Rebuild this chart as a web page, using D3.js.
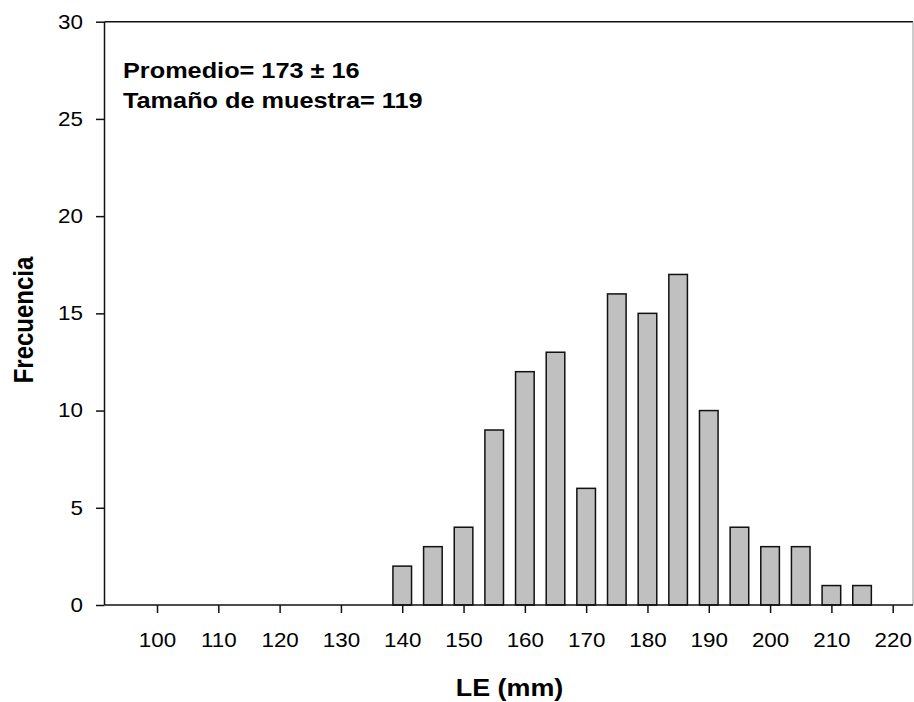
<!DOCTYPE html>
<html>
<head>
<meta charset="utf-8">
<script src="https://cdn.jsdelivr.net/npm/d3@7"></script>
<style>
  html, body { margin: 0; padding: 0; background: #fff; }
  svg { display: block; }
  text { font-family: Arial, "Liberation Sans", Helvetica, sans-serif; fill: #000; }
</style>
</head>
<body>
<svg id="chart" width="914" height="702"></svg>
<script>
// ---- data ----
const binCenters = [140, 145, 150, 155, 160, 165, 170, 175, 180, 185, 190, 195, 200, 205, 210, 215];
const frequencies = [2, 3, 4, 9, 12, 13, 6, 16, 15, 17, 10, 4, 3, 3, 1, 1];
const xTickValues = [100, 110, 120, 130, 140, 150, 160, 170, 180, 190, 200, 210, 220];
const yTickValues = [0, 5, 10, 15, 20, 25, 30];
const annotationLines = ["Promedio= 173 \u00b1 16", "Tama\u00f1o de muestra= 119"];
const xLabel = "LE (mm)";
const yLabel = "Frecuencia";

// ---- layout ----
const svg = d3.select("#chart");
const plotLeft = 104.5, plotRight = 913, plotTop = 21.7, plotBottom = 605;
const SX = 1.12; // horizontal stretch of the original rendering

const x = d3.scaleLinear().domain([100, 220]).range([157, 892.7]);
const y = d3.scaleLinear().domain([0, 30]).range([plotBottom, plotTop]);
const barW = 18.6;

// bars
svg.append("g").selectAll("rect")
  .data(binCenters.map((c, i) => ({ c, v: frequencies[i] })))
  .join("rect")
  .attr("x", d => x(d.c) - barW / 2)
  .attr("y", d => y(d.v))
  .attr("width", barW)
  .attr("height", d => y(0) - y(d.v))
  .attr("fill", "#c0c0c0")
  .attr("stroke", "#111")
  .attr("stroke-width", 1.5);

// frame lines
svg.append("line").attr("x1", plotLeft).attr("x2", plotRight).attr("y1", plotTop).attr("y2", plotTop)
  .attr("stroke", "#111").attr("stroke-width", 1.5);
svg.append("line").attr("x1", plotRight).attr("x2", plotRight).attr("y1", plotTop).attr("y2", plotBottom)
  .attr("stroke", "#999").attr("stroke-width", 1);
svg.append("line").attr("x1", plotLeft).attr("x2", plotRight).attr("y1", plotBottom).attr("y2", plotBottom)
  .attr("stroke", "#111").attr("stroke-width", 1.5);
svg.append("line").attr("x1", plotLeft).attr("x2", plotLeft).attr("y1", plotTop).attr("y2", plotBottom)
  .attr("stroke", "#111").attr("stroke-width", 1.5);

// x axis
const gx = svg.append("g").attr("transform", `translate(0,${plotBottom})`)
  .call(d3.axisBottom(x).tickValues(xTickValues).tickFormat(d3.format("d")).tickSize(8).tickSizeOuter(0));
gx.select(".domain").remove();
gx.selectAll(".tick line").attr("stroke", "#111").attr("stroke-width", 1.5);
gx.selectAll(".tick text")
  .attr("y", 42).attr("dy", null)
  .attr("transform", `scale(${SX},1)`)
  .style("font-size", "20px");

// y axis
const gy = svg.append("g").attr("transform", `translate(${plotLeft},0)`)
  .call(d3.axisLeft(y).tickValues(yTickValues).tickFormat(d3.format("d")).tickSize(8.5).tickSizeOuter(0));
gy.select(".domain").remove();
gy.selectAll(".tick line").attr("stroke", "#111").attr("stroke-width", 1.5);
gy.selectAll(".tick text")
  .attr("x", -21.5 / SX)
  .attr("transform", `scale(${SX},1)`)
  .style("font-size", "20px");

// annotation
annotationLines.forEach((t, i) => {
  svg.append("text")
    .attr("transform", `translate(123,${78.3 + i * 29.7}) scale(${SX + 0.03},1)`)
    .style("font-size", "22px").style("font-weight", "bold")
    .text(t);
});

// axis titles
svg.append("text")
  .attr("transform", `translate(509.5,696) scale(${SX},1)`)
  .attr("text-anchor", "middle")
  .style("font-size", "24px").style("font-weight", "bold")
  .text(xLabel);

svg.append("text")
  .attr("transform", `translate(33.3,320) rotate(-90) scale(1,${SX})`)
  .attr("text-anchor", "middle")
  .style("font-size", "24px").style("font-weight", "bold")
  .text(yLabel);
</script>
</body>
</html>
